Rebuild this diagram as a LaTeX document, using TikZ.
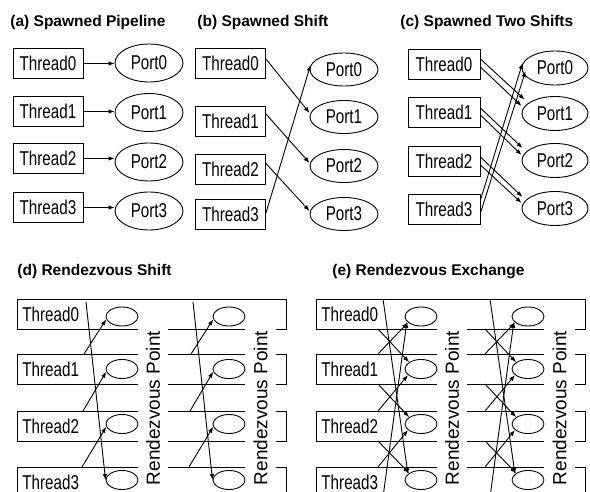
\documentclass[tikz,border=0pt]{standalone}
\usepackage{fontspec}
\setmainfont{Liberation Sans}
\newfontfamily\narrowfont[FakeStretch=0.76]{Liberation Sans}
\newfontfamily\titlefont{Liberation Sans Bold}
\usetikzlibrary{arrows.meta,shapes.geometric}
\tikzset{
  tbox/.style={draw, minimum width=70pt, minimum height=30pt, inner sep=0pt,
    font=\narrowfont\fontsize{20}{22}\selectfont},
  port/.style={draw, ellipse, minimum width=68pt, minimum height=36pt, inner sep=0pt,
    font=\narrowfont\fontsize{20}{22}\selectfont},
  rpt/.style={draw, ellipse, minimum width=32pt, minimum height=19pt, inner sep=0pt},
  ttl/.style={anchor=base west, inner sep=0pt, font=\titlefont\fontsize{15.5}{17}\selectfont},
  lbl/.style={anchor=base west, inner sep=0pt, font=\narrowfont\fontsize{20}{22}\selectfont},
  rvp/.style={rotate=90, inner sep=0pt, font=\fontsize{19}{21}\selectfont},
  arr/.style={-{Latex[length=6pt,width=4.5pt]}},
}
\newcommand{\rvframe}[1]{%
  % row 0
  \draw (138,329) -- (17,329) -- (17,299) -- (286,299) -- (286,329) -- (276,329);
  \draw (168,329) -- (245,329);
  % rows 1..3
  \foreach \t in {354,411,467}{
    \pgfmathsetmacro{\b}{\t+30}
    \draw (138,\t) -- (17,\t) -- (17,\b) -- (138,\b);
    \draw (168,\t) -- (245,\t);
    \draw (168,\b) -- (245,\b);
    \draw (276,\t) -- (286,\t) -- (286,\b) -- (276,\b);
  }
  \node[lbl] (#1l0) at (22,321.5) {Thread0};
  \node[lbl] (#1l1) at (22,376.5) {Thread1};
  \node[lbl] (#1l2) at (22,433.5) {Thread2};
  \node[lbl] (#1l3) at (22,489) {Thread3};
  \foreach \c/\x in {1/122,2/229}{
    \node[rpt] (#1e\c0) at (\x,316.5) {};
    \node[rpt] (#1e\c1) at (\x,369) {};
    \node[rpt] (#1e\c2) at (\x,424) {};
    \node[rpt] (#1e\c3) at (\x,480) {};
  }
  \node[rvp] (#1t1) at (153,408) {Rendezvous Point};
  \node[rvp] (#1t2) at (260.5,408) {Rendezvous Point};
}
\begin{document}
\begin{tikzpicture}[x=1pt,y=-1pt,line width=0.9pt]
\useasboundingbox (0,0) rectangle (590,492);
\clip (0,0) rectangle (590,492);
\fill[white] (0,0) rectangle (590,492);

% ---------- (a) ----------
\node[ttl] (ta) at (10,27) {(a) Spawned Pipeline};
\foreach \k/\ya/\yp in {0/63.5/63,1/111.5/112.5,2/158.5/162,3/207.5/211}{
  \node[tbox] (a\k) at (48,\ya) {Thread\k};
  \node[port, minimum height=38pt] (pa\k) at (149,\yp) {Port\k};
  \draw[arr] (a\k.east) -- (a\k.east -| pa\k.west);
}

% ---------- (b) ----------
\node[ttl] (tb) at (197,27) {(b) Spawned Shift};
\foreach \k/\yb/\yp in {0/63/69.5,1/121/117,2/169.5/166,3/214.5/214}{
  \node[tbox] (b\k) at (230.5,\yb) {Thread\k};
  \node[port, minimum height=33pt] (pb\k) at (344,\yp) {Port\k};
}
\draw[arr] ([yshift=4pt]b0.east) -- ([yshift=4pt]pb1.west);
\draw[arr] ([yshift=7pt]b1.east) -- ([yshift=3pt]pb2.west);
\draw[arr] ([yshift=6pt]b2.east) -- ([yshift=3pt]pb3.west);
\draw[arr] ([yshift=1.5pt]b3.east) -- ([yshift=4.5pt,xshift=1pt]pb0.west);

% ---------- (c) ----------
\node[ttl] (tc) at (400,27) {(c) Spawned Two Shifts};
\foreach \k/\yb/\yp in {0/64/68,1/112.5/113.5,2/161.5/160.5,3/209/208.5}{
  \node[tbox, minimum width=72pt] (c\k) at (444,\yb) {Thread\k};
  \node[port, minimum width=66pt, minimum height=34pt] (pc\k) at (555,\yp) {Port\k};
}
\draw[arr] ([yshift=5pt]c0.east) -- ([yshift=14pt,xshift=3pt]pc1.west);
\draw[arr] ([yshift=-3pt]c0.east) -- ([yshift=7.5pt]pc1.west);
\draw[arr] ([yshift=4.5pt]c1.east) -- ([yshift=12.5pt,xshift=1pt]pc2.west);
\draw[arr] ([yshift=-2.5pt]c1.east) -- ([yshift=5.5pt]pc2.west);
\draw[arr] ([yshift=4.5pt]c2.east) -- ([yshift=11.5pt,xshift=1pt]pc3.west);
\draw[arr] ([yshift=-3.5pt]c2.east) -- ([yshift=5.5pt]pc3.west);
\draw[arr] ([yshift=9pt]c3.east) -- ([yshift=5pt,xshift=1pt]pc0.west);
\draw[arr] ([yshift=-4pt]c3.east) -- ([yshift=-3pt,xshift=4pt]pc0.west);

% ---------- (d) ----------
\node[ttl] (td) at (17,276) {(d) Rendezvous Shift};
\begin{scope}
  \rvframe{d}
  \foreach \c/\dx in {1/0,2/107}{
    \coordinate (ds\c) at (86+\dx,302);
    \coordinate (ds\c1) at (84+\dx,354);
    \coordinate (ds\c2) at (83+\dx,411);
    \coordinate (ds\c3) at (82+\dx,467);
    \draw[arr] (ds\c) -- (de\c3.west);
    \draw[arr] (ds\c1) -- (de\c0.190);
    \draw[arr] (ds\c2) -- (de\c1.190);
    \draw[arr] (ds\c3) -- (de\c2.190);
  }
\end{scope}

% ---------- (e) ----------
\node[ttl] (te) at (332,276) {(e) Rendezvous Exchange};
\begin{scope}[xshift=299pt]
  \rvframe{e}
  \foreach \c/\dx in {1/0,2/107}{
    \coordinate (etop\c) at (84+\dx,299);
    \coordinate (ebot\c) at (84+\dx,497);
    \coordinate (eb\c0) at (79+\dx,329);
    \coordinate (et\c1) at (79+\dx,354);
    \coordinate (eb\c1) at (79+\dx,384);
    \coordinate (et\c2) at (79+\dx,411);
    \coordinate (eb\c2) at (79+\dx,441);
    \coordinate (et\c3) at (79+\dx,467);
    \draw[arr] (etop\c) -- (ee\c3.155);
    \draw[arr] (ebot\c) -- (ee\c0.200);
    \draw[arr] (eb\c0) -- (ee\c1.150);
    \draw[arr] (et\c1) -- (ee\c0.205);
    \draw[arr] (eb\c1) -- (ee\c2.150);
    \draw[arr] (et\c2) -- (ee\c1.205);
    \draw[arr] (eb\c2) -- (ee\c3.150);
    \draw[arr] (et\c3) -- (ee\c2.205);
  }
\end{scope}
\end{tikzpicture}
\end{document}
